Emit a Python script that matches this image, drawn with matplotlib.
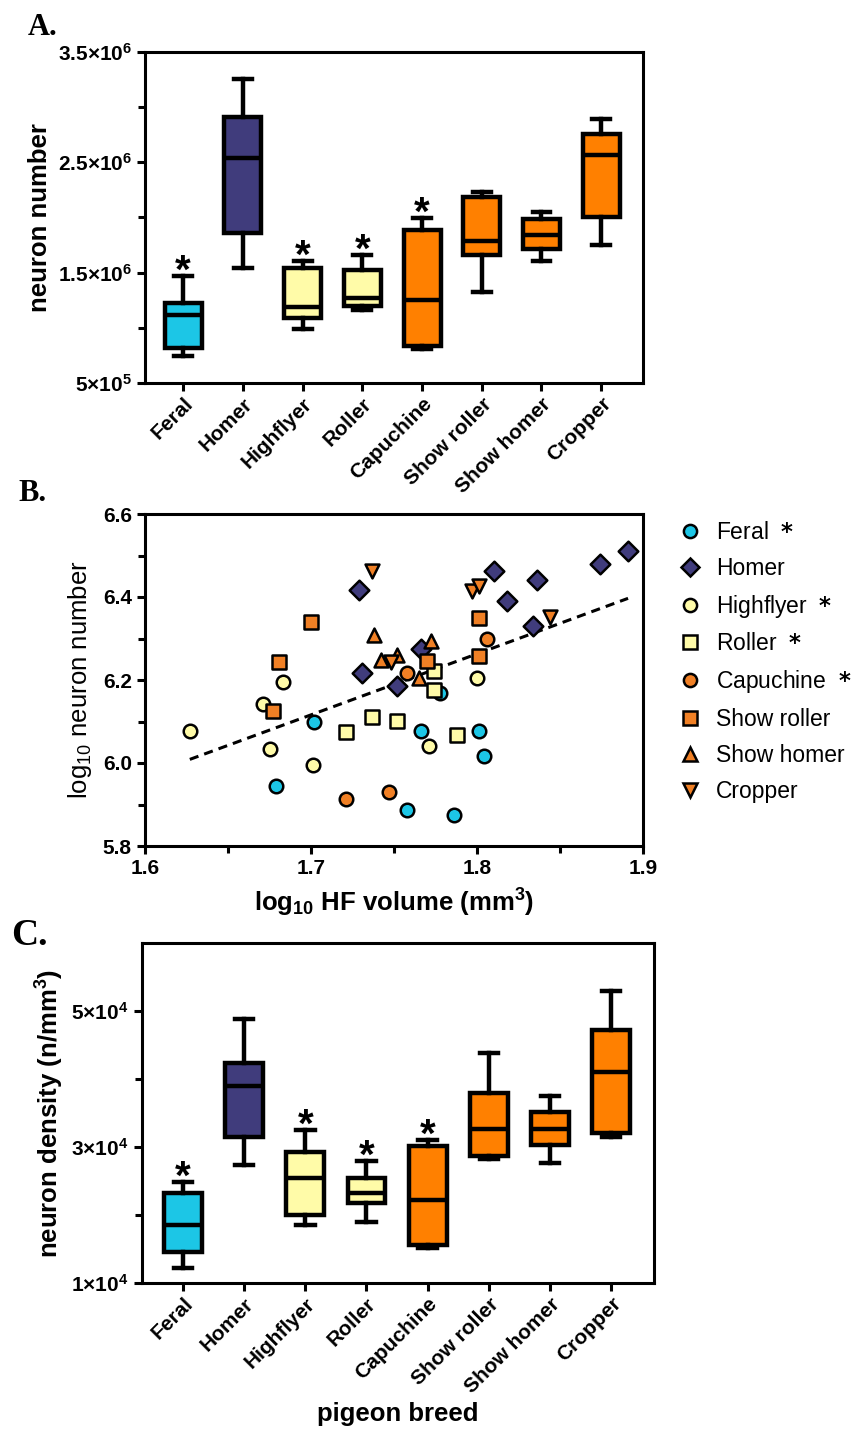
import numpy as np
import matplotlib
matplotlib.use('Agg')
import matplotlib.pyplot as plt
from matplotlib.lines import Line2D

plt.rcParams['font.family'] = ['Liberation Sans', 'DejaVu Sans']
plt.rcParams['mathtext.default'] = 'regular'

breeds = ['Feral', 'Homer', 'Highflyer', 'Roller', 'Capuchine', 'Show roller', 'Show homer', 'Cropper']
box_colors = ['#1CC6E6', '#403C7C', '#FFFBA8', '#FFFBA8', '#FF8000', '#FF8000', '#FF8000', '#FF8000']
signif = [True, False, True, True, True, False, False, False]

# panel A: neuron number (min, q1, median, q3, max)
num_min = [0.744e6, 1.54e6, 0.99e6, 1.16e6, 0.81e6, 1.324e6, 1.605e6, 1.75e6]
num_q1 = [0.816e6, 1.86e6, 1.09e6, 1.20e6, 0.835e6, 1.66e6, 1.714e6, 2.00e6]
num_med = [1.116e6, 2.54e6, 1.19e6, 1.27e6, 1.25e6, 1.787e6, 1.84e6, 2.566e6]
num_q3 = [1.224e6, 2.91e6, 1.54e6, 1.52e6, 1.886e6, 2.19e6, 1.986e6, 2.76e6]
num_max = [1.469e6, 3.255e6, 1.605e6, 1.66e6, 1.995e6, 2.23e6, 2.05e6, 2.89e6]
num_ticks = [5e5, 1.5e6, 2.5e6, 3.5e6]
num_ticklabels = ['5×10$^5$', '1.5×10$^6$', '2.5×10$^6$', '3.5×10$^6$']

# panel C: neuron density
den_min = [1.22e4, 2.74e4, 1.85e4, 1.90e4, 1.51e4, 2.82e4, 2.77e4, 3.15e4]
den_q1 = [1.45e4, 3.14e4, 2.00e4, 2.18e4, 1.56e4, 2.87e4, 3.03e4, 3.20e4]
den_med = [1.85e4, 3.90e4, 2.54e4, 2.33e4, 2.22e4, 3.26e4, 3.26e4, 4.10e4]
den_q3 = [2.32e4, 4.23e4, 2.92e4, 2.55e4, 3.02e4, 3.80e4, 3.51e4, 4.72e4]
den_max = [2.49e4, 4.88e4, 3.25e4, 2.80e4, 3.11e4, 4.38e4, 3.75e4, 5.30e4]
den_ticks = [1e4, 3e4, 5e4]
den_ticklabels = ['1×10$^4$', '3×10$^4$', '5×10$^4$']

# panel B: log10 HF volume vs log10 neuron number
feral_x = [1.679, 1.702, 1.758, 1.766, 1.778, 1.801, 1.804, 1.786]
feral_y = [5.945, 6.098, 5.887, 6.078, 6.168, 6.076, 6.018, 5.875]
homer_x = [1.729, 1.731, 1.752, 1.766, 1.810, 1.818, 1.836, 1.834, 1.874, 1.891]
homer_y = [6.416, 6.217, 6.186, 6.274, 6.462, 6.391, 6.442, 6.329, 6.479, 6.512]
highflyer_x = [1.627, 1.671, 1.675, 1.683, 1.701, 1.771, 1.800]
highflyer_y = [6.078, 6.142, 6.033, 6.194, 5.996, 6.040, 6.206]
roller_x = [1.721, 1.737, 1.752, 1.774, 1.774, 1.788]
roller_y = [6.074, 6.110, 6.102, 6.221, 6.176, 6.068]
capuchine_x = [1.721, 1.747, 1.758, 1.806]
capuchine_y = [5.913, 5.929, 6.217, 6.299]
showroller_x = [1.700, 1.681, 1.677, 1.770, 1.801, 1.801]
showroller_y = [6.340, 6.243, 6.126, 6.245, 6.349, 6.258]
showhomer_x = [1.738, 1.742, 1.752, 1.765, 1.772]
showhomer_y = [6.309, 6.249, 6.261, 6.206, 6.293]
cropper_x = [1.737, 1.748, 1.797, 1.801, 1.844]
cropper_y = [6.462, 6.243, 6.414, 6.426, 6.353]
fit_slope = 1.47
fit_intercept = 3.617

W, H = 857, 1447
fig = plt.figure(figsize=(W / 100, H / 100), dpi=100)


def px_axes(left, top, right, bottom):
    return fig.add_axes([left / W, 1 - bottom / H, (right - left) / W, (bottom - top) / H])


def style_axes(ax):
    for s in ax.spines.values():
        s.set_linewidth(2.2)
    ax.tick_params(which='both', direction='out', width=2.2, top=False, right=False)
    ax.tick_params(which='major', length=6)
    ax.tick_params(which='minor', length=5)


def draw_boxes(ax, mins, q1s, meds, q3s, maxs):
    stats = []
    for i in range(len(breeds)):
        stats.append({'whislo': mins[i], 'q1': q1s[i], 'med': meds[i],
                      'q3': q3s[i], 'whishi': maxs[i], 'fliers': []})
    bp = ax.bxp(stats, positions=range(len(breeds)), widths=0.62, capwidths=0.3,
                patch_artist=True, showfliers=False,
                boxprops=dict(linewidth=3.2, edgecolor='black'),
                whiskerprops=dict(linewidth=3.2, color='black'),
                capprops=dict(linewidth=3.2, color='black'),
                medianprops=dict(linewidth=3.2, color='black'))
    for patch, c in zip(bp['boxes'], box_colors):
        patch.set_facecolor(c)
    for i, s in enumerate(signif):
        if s:
            ax.annotate('*', (i, maxs[i]), xytext=(0, -5), textcoords='offset points',
                        ha='center', va='baseline', fontsize=29, fontweight='bold')
    ax.set_xticks(range(len(breeds)))
    ax.set_xticklabels(breeds, rotation=45, ha='right', rotation_mode='anchor',
                       fontsize=15, fontweight='bold')
    ax.tick_params(axis='x', pad=2)


# ---- A ----
axA = px_axes(145, 52, 643, 383)
style_axes(axA)
draw_boxes(axA, num_min, num_q1, num_med, num_q3, num_max)
axA.set_xlim(-0.64, 7.7)
axA.set_ylim(5e5, 3.5e6)
axA.set_yticks(num_ticks)
axA.set_yticklabels(num_ticklabels, fontsize=15, fontweight='bold')
axA.set_yticks([1e6, 2e6, 3e6], minor=True)
axA.set_ylabel('neuron number', fontsize=18.5, fontweight='bold', labelpad=4)

# ---- B ----
axB = px_axes(145, 514, 643, 846)
style_axes(axB)
groups = [
    ('Feral', feral_x, feral_y, 'o', '#1CC6E6', 95, True),
    ('Homer', homer_x, homer_y, 'D', '#403C7C', 100, False),
    ('Highflyer', highflyer_x, highflyer_y, 'o', '#FFFBA8', 95, True),
    ('Roller', roller_x, roller_y, 's', '#FFFBA8', 95, True),
    ('Capuchine', capuchine_x, capuchine_y, 'o', '#F08025', 95, True),
    ('Show roller', showroller_x, showroller_y, 's', '#F08025', 95, False),
    ('Show homer', showhomer_x, showhomer_y, '^', '#F08025', 100, False),
    ('Cropper', cropper_x, cropper_y, 'v', '#F08025', 100, False),
]
handles = []
labels = []
for name, xs, ys, m, c, s, star in groups:
    axB.scatter(xs, ys, marker=m, s=s, facecolor=c, edgecolor='black', linewidth=1.8, zorder=3)
    handles.append(Line2D([], [], linestyle='none', marker=m, markersize=9.5,
                          markerfacecolor=c, markeredgecolor='black', markeredgewidth=1.8))
    labels.append(name + '  $\\bf{*}$' if star else name)

all_x = np.concatenate([g[1] for g in groups])
fx = np.array([all_x.min(), all_x.max()])
axB.plot(fx, fit_slope * fx + fit_intercept, color='black', linestyle=(0, (3, 2)),
         linewidth=2.2, zorder=2)
axB.set_xlim(1.6, 1.9)
axB.set_ylim(5.8, 6.6)
axB.set_xticks([1.6, 1.7, 1.8, 1.9])
axB.set_xticklabels(['1.6', '1.7', '1.8', '1.9'], fontsize=15, fontweight='bold')
axB.set_xticks([1.65, 1.75, 1.85], minor=True)
axB.set_yticks([5.8, 6.0, 6.2, 6.4, 6.6])
axB.set_yticklabels(['5.8', '6.0', '6.2', '6.4', '6.6'], fontsize=15, fontweight='bold')
axB.set_yticks([5.9, 6.1, 6.3, 6.5], minor=True)
axB.set_xlabel('log$_{10}$ HF volume (mm$^3$)', fontsize=18.5, fontweight='bold', labelpad=6)
axB.set_ylabel('log$_{10}$ neuron number', fontsize=18.5, labelpad=6)
fig.legend(handles, labels, loc='upper left', bbox_to_anchor=(679 / W, 1 - 521 / H),
           frameon=False, fontsize=16.5, handlelength=1.0, handletextpad=0.6,
           labelspacing=0.56, borderpad=0, borderaxespad=0)

# ---- C ----
axC = px_axes(142, 943, 654, 1283)
style_axes(axC)
draw_boxes(axC, den_min, den_q1, den_med, den_q3, den_max)
axC.set_xlim(-0.67, 7.7)
axC.set_ylim(1e4, 6e4)
axC.set_yticks(den_ticks)
axC.set_yticklabels(den_ticklabels, fontsize=15, fontweight='bold')
axC.set_yticks([2e4, 4e4], minor=True)
axC.set_ylabel('neuron density (n/mm$^3$)', fontsize=18.5, fontweight='bold', labelpad=4)
axC.set_xlabel('pigeon breed', fontsize=18.5, fontweight='bold', labelpad=4)

# panel letters
for letter, x, y, fs in [('A.', 28, 35, 22), ('B.', 18, 501, 22), ('C.', 11, 945, 27)]:
    fig.text(x / W, 1 - y / H, letter, family='Liberation Serif', fontweight='bold',
             fontsize=fs, va='baseline', ha='left')

fig.savefig('out.png', dpi=100)
